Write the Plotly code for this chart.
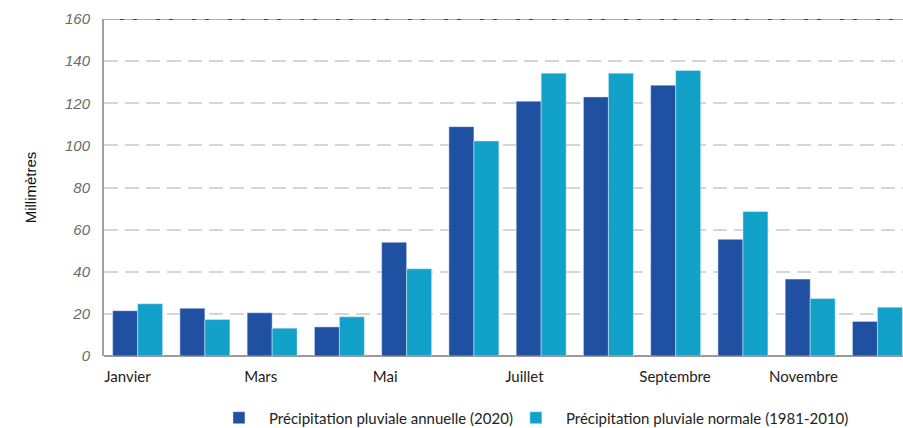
import plotly.graph_objects as go

# Monthly rainfall (mm)
months = ["Janvier", "Février", "Mars", "Avril", "Mai", "Juin", "Juillet",
          "Août", "Septembre", "Octobre", "Novembre", "Décembre"]
rain_2020 = [21.5, 22.7, 20.5, 13.8, 54.0, 108.9, 121.0, 123.0, 128.6, 55.4, 36.5, 16.4]
rain_normal = [24.8, 17.3, 13.2, 18.6, 41.4, 102.1, 134.3, 134.3, 135.6, 68.6, 27.3, 23.2]

name_2020 = "Précipitation pluviale annuelle (2020)"
name_normal = "Précipitation pluviale normale (1981-2010)"

# x-axis labels shown every second month
label_months = ["Janvier", "Mars", "Mai", "Juillet", "Septembre", "Novembre"]
label_pos = [-0.15, 1.83, 3.68, 5.75, 7.99, 9.9]

y_ticks = [0, 20, 40, 60, 80, 100, 120, 140, 160]

DARK = "#1f50a2"
TEAL = "#12a1c9"

x_idx = list(range(len(months)))

fig = go.Figure()
fig.add_trace(go.Bar(x=x_idx, y=rain_2020, name=name_2020, marker_color=DARK,
                     hovertext=months, legend="legend"))
fig.add_trace(go.Bar(x=x_idx, y=rain_normal, name=name_normal, marker_color=TEAL,
                     hovertext=months, legend="legend2"))

# top border: grey rule with dark dots
fig.add_shape(type="line", xref="paper", yref="y", x0=0, x1=1, y0=160, y1=160,
              line=dict(color="#b0b0b0", width=2))
fig.add_shape(type="line", xref="paper", yref="y", x0=0.02, x1=1, y0=160, y1=160,
              line=dict(color="#444444", width=2, dash="4px,9px,4px,19px"))

legend_style = dict(orientation="h", xanchor="left", y=-0.135, yanchor="top",
                    font=dict(size=15, color="#222", family="Lato, sans-serif"),
                    itemwidth=50, bgcolor="rgba(0,0,0,0)")

fig.update_layout(
    width=903, height=428,
    margin=dict(l=104, r=0, t=19, b=72, autoexpand=False),
    paper_bgcolor="white", plot_bgcolor="white",
    barmode="group", bargap=0.257, bargroupgap=0,
    font=dict(family="Lato, Liberation Sans, sans-serif", color="#222"),
    showlegend=True,
    legend=dict(x=0.1314, **legend_style),
    legend2=dict(x=0.503, **legend_style),
    xaxis=dict(
        range=[-0.5, 11.38], tickmode="array", tickvals=label_pos, ticktext=label_months,
        showgrid=False, zeroline=False, showline=False, ticks="",
        tickfont=dict(size=15, color="#222", family="Lato, sans-serif"),
        ticklabelstandoff=10,
    ),
    yaxis=dict(
        range=[0, 160], tickmode="array", tickvals=y_ticks,
        showgrid=True, gridcolor="#d6d6d6", gridwidth=1.5, griddash="14px,7px",
        zeroline=True, zerolinecolor="#999999", zerolinewidth=2,
        showline=True, linecolor="#a0a0a0", linewidth=2,
        ticks="", ticklabelstandoff=9,
        tickfont=dict(size=15, color="#6b6b6b", family="Liberation Sans, Arial, sans-serif",
                      style="italic"),
        title=dict(text="Millimètres", standoff=25,
                   font=dict(size=15, color="#111", family="Liberation Sans, Arial, sans-serif")),
    ),
)

fig.write_html("out.html")
